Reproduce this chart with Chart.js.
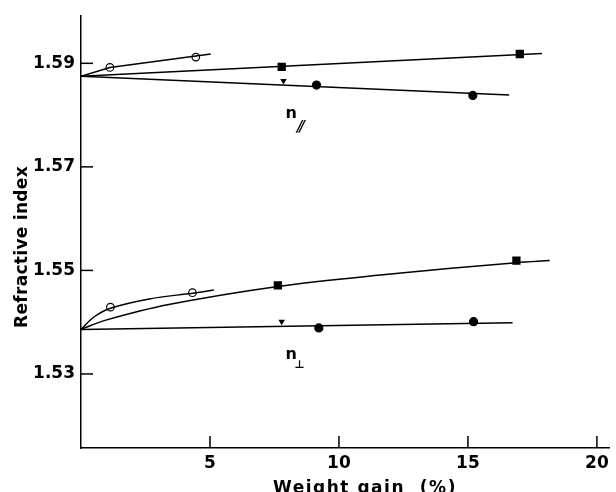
<!DOCTYPE html>
<html lang="en">
<head>
  <meta charset="UTF-8">
  <title>Refractive index vs weight gain</title>
  <style>
    body { margin: 0; padding: 0; background: #fff; }
    canvas { display: block; }
  </style>
</head>
<body>
<canvas id="chart" width="616" height="492"></canvas>
<script src="https://cdn.jsdelivr.net/npm/chart.js"></script>
<script>
  // axis ticks
  const xTicks = [5, 10, 15, 20];
  const yTicks = [1.53, 1.55, 1.57, 1.59];

  // n parallel - measured points
  const parOpenX = [1.12, 4.45];
  const parOpenY = [1.5892, 1.5912];
  const parSquareX = [7.78, 17.01];
  const parSquareY = [1.5893, 1.5918];
  const parCircleX = [9.13, 15.19];
  const parCircleY = [1.5858, 1.5838];
  const parTriX = [7.85];
  const parTriY = [1.5866];
  // n parallel - drawn curves
  const parOpenFitX = [0, 1.12, 5.03];
  const parOpenFitY = [1.5875, 1.5892, 1.5918];
  const parSquareFitX = [0, 17.87];
  const parSquareFitY = [1.5875, 1.5919];
  const parCircleFitX = [0, 16.6];
  const parCircleFitY = [1.5875, 1.5839];

  // n perpendicular - measured points
  const perpOpenX = [1.14, 4.32];
  const perpOpenY = [1.5429, 1.5457];
  const perpSquareX = [7.63, 16.88];
  const perpSquareY = [1.5471, 1.5519];
  const perpCircleX = [9.22, 15.22];
  const perpCircleY = [1.5389, 1.5401];
  const perpTriX = [7.78];
  const perpTriY = [1.5401];
  // n perpendicular - drawn curves
  const perpOpenFitX = [0, 0.5, 1.14, 2.65, 4.32, 5.15];
  const perpOpenFitY = [1.5386, 1.5410, 1.5427, 1.5445, 1.5456, 1.5462];
  const perpSquareFitX = [0, 0.9, 3.4, 7.63, 11.6, 16.88, 18.17];
  const perpSquareFitY = [1.5386, 1.5403, 1.5434, 1.5469, 1.5491, 1.5515, 1.5519];
  const perpCircleFitX = [0, 16.73];
  const perpCircleFitY = [1.5386, 1.5399];

  const pts = (xs, ys) => xs.map((x, i) => ({ x: x, y: ys[i] }));

  function curve(xs, ys, smooth) {
    return {
      data: pts(xs, ys),
      showLine: true,
      borderColor: '#000',
      borderWidth: 1.5,
      pointRadius: 0,
      tension: smooth ? 0.35 : 0
    };
  }

  function marks(xs, ys, style, filled, radius, rotation) {
    return {
      data: pts(xs, ys),
      showLine: false,
      pointStyle: style,
      pointRadius: radius,
      pointRotation: rotation || 0,
      backgroundColor: filled ? '#000' : '#fff',
      borderColor: '#000',
      borderWidth: 1.2
    };
  }

  const innerTicks = {
    id: 'innerTicks',
    afterDraw(chart) {
      const { ctx, chartArea, scales } = chart;
      ctx.save();
      ctx.strokeStyle = '#000';
      ctx.lineWidth = 1.5;
      scales.x.ticks.forEach(t => {
        const px = scales.x.getPixelForValue(t.value);
        ctx.beginPath();
        ctx.moveTo(px, chartArea.bottom);
        ctx.lineTo(px, chartArea.bottom - 12);
        ctx.stroke();
      });
      scales.y.ticks.forEach(t => {
        const py = scales.y.getPixelForValue(t.value);
        ctx.beginPath();
        ctx.moveTo(chartArea.left, py);
        ctx.lineTo(chartArea.left + 12, py);
        ctx.stroke();
      });
      ctx.restore();
    }
  };

  const texts = {
    id: 'texts',
    afterDraw(chart) {
      const { ctx, scales } = chart;
      ctx.save();
      ctx.fillStyle = '#000';
      ctx.font = 'bold 17px "DejaVu Sans"';
      ctx.letterSpacing = '1.5px';
      ctx.textAlign = 'center';
      ctx.textBaseline = 'alphabetic';
      ctx.fillText('Weight gain  (%)', 365, 493);
      ctx.translate(27, 247);
      ctx.rotate(-Math.PI / 2);
      ctx.letterSpacing = '0.3px';
      ctx.fillText('Refractive index', 0, 0);
      ctx.restore();

      // curve labels
      ctx.save();
      ctx.fillStyle = '#000';
      ctx.textAlign = 'left';
      ctx.textBaseline = 'alphabetic';
      const ax = scales.x.getPixelForValue(7.93);
      ctx.font = 'bold 16px "DejaVu Sans"';
      ctx.fillText('n', ax, scales.y.getPixelForValue(1.5794));
      ctx.fillText('n', ax, scales.y.getPixelForValue(1.5329));
      ctx.font = 'bold 11px "DejaVu Sans"';
      ctx.fillText('\u22A5', ax + 9, scales.y.getPixelForValue(1.5312));
      ctx.font = 'bold 13px "DejaVu Sans"';
      ctx.translate(ax + 10, scales.y.getPixelForValue(1.5772));
      ctx.transform(1, 0, -0.5, 1, 0, 0);
      ctx.fillText('\u2225', 0, 0);
      ctx.restore();
    }
  };

  new Chart(document.getElementById('chart'), {
    type: 'scatter',
    data: {
      datasets: [
        curve(parOpenFitX, parOpenFitY, false),
        curve(parSquareFitX, parSquareFitY, false),
        curve(parCircleFitX, parCircleFitY, false),
        curve(perpOpenFitX, perpOpenFitY, true),
        curve(perpSquareFitX, perpSquareFitY, true),
        curve(perpCircleFitX, perpCircleFitY, false),
        marks(parOpenX, parOpenY, 'circle', false, 3.8),
        marks(parSquareX, parSquareY, 'rect', true, 5),
        marks(parCircleX, parCircleY, 'circle', true, 4),
        marks(parTriX, parTriY, 'triangle', true, 2.5, 180),
        marks(perpOpenX, perpOpenY, 'circle', false, 3.8),
        marks(perpSquareX, perpSquareY, 'rect', true, 5),
        marks(perpCircleX, perpCircleY, 'circle', true, 4),
        marks(perpTriX, perpTriY, 'triangle', true, 2.5, 180)
      ]
    },
    options: {
      responsive: false,
      animation: false,
      layout: { padding: { top: 10, right: 1, left: 0, bottom: 0 } },
      plugins: {
        legend: { display: false },
        tooltip: { enabled: false }
      },
      scales: {
        x: {
          min: 0,
          max: 20.5,
          afterFit: s => { s.height = 44; },
          afterBuildTicks: s => { s.ticks = xTicks.map(v => ({ value: v })); },
          grid: { display: false, drawTicks: false },
          border: { display: true, color: '#000', width: 1.5 },
          ticks: {
            color: '#000',
            padding: 5,
            maxRotation: 0,
            font: { family: 'DejaVu Sans', size: 17, weight: 'bold' }
          }
        },
        y: {
          min: 1.5157,
          max: 1.5991,
          afterFit: s => { s.width = 81; },
          afterBuildTicks: s => { s.ticks = yTicks.map(v => ({ value: v })); },
          grid: { display: false, drawTicks: false },
          border: { display: true, color: '#000', width: 1.5 },
          ticks: {
            color: '#000',
            padding: 6,
            font: { family: 'DejaVu Sans', size: 17, weight: 'bold' },
            callback: v => v.toFixed(2)
          }
        }
      }
    },
    plugins: [innerTicks, texts]
  });
</script>
</body>
</html>
